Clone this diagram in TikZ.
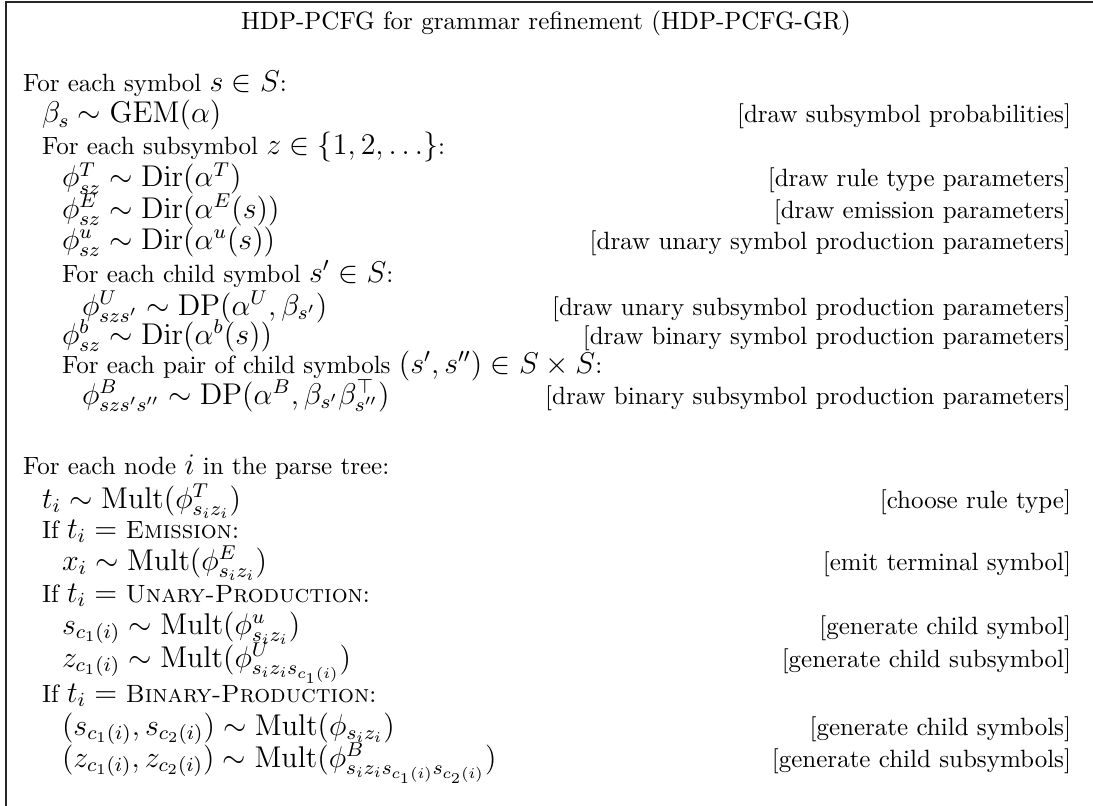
\documentclass[tikz,border=0pt]{standalone}
\DeclareMathSizes{10}{12}{8}{6}
\tikzset{
  ln/.style={anchor=base west,inner sep=0pt,outer sep=0pt,font=\fontsize{10}{12}\selectfont},
  cmt/.style={anchor=base east,inner sep=0pt,outer sep=0pt,font=\fontsize{10}{12}\selectfont},
  ttl/.style={anchor=base,inner sep=0pt,outer sep=0pt,font=\fontsize{10}{12}\selectfont},
  frame/.style={line width=0.7pt,draw=black!85}
}
\begin{document}
\begin{tikzpicture}[x=0.4pt,y=0.4pt]
\useasboundingbox (0,0) rectangle (1093,-806);
\coordinate (tl) at (6,-2);
\coordinate (tr) at (1093,-2);
\coordinate (bl) at (6,-806);
\draw[frame] (tr) -- (tl) -- (bl);
\node[ttl] (title) at (546,-30) {HDP-PCFG for grammar refinement (HDP-PCFG-GR)};
% levels
\def\La{23}\def\Lb{42}\def\Lc{62}\def\Ld{82}\def\R{1071}
\node[ln] (l0) at (\La,-92) {For each symbol $s \in S$:};
\node[ln] (l1) at (\Lb,-123) {$\beta_s \sim \mathrm{GEM}(\alpha)$};
\node[cmt] (c1) at (\R,-123) {[draw subsymbol probabilities]};
\node[ln] (l2) at (\Lb,-155) {For each subsymbol $z \in \{1, 2, \dots\}$:};
\node[ln] (l3) at (\Lc,-187) {$\phi^T_{sz} \sim \mathrm{Dir}(\alpha^T)$};
\node[cmt] (c3) at (\R,-187) {[draw rule type parameters]};
\node[ln] (l4) at (\Lc,-218) {$\phi^E_{sz} \sim \mathrm{Dir}(\alpha^E(s))$};
\node[cmt] (c4) at (\R,-218) {[draw emission parameters]};
\node[ln] (l5) at (\Lc,-249) {$\phi^u_{sz} \sim \mathrm{Dir}(\alpha^u(s))$};
\node[cmt] (c5) at (\R,-249) {[draw unary symbol production parameters]};
\node[ln] (l6) at (\Lc,-282) {For each child symbol $s' \in S$:};
\node[ln] (l7) at (\Ld,-315) {$\phi^U_{szs'} \sim \mathrm{DP}(\alpha^U, \beta_{s'})$};
\node[cmt] (c7) at (\R,-315) {[draw unary subsymbol production parameters]};
\node[ln] (l8) at (\Lc,-344) {$\phi^b_{sz} \sim \mathrm{Dir}(\alpha^b(s))$};
\node[cmt] (c8) at (\R,-344) {[draw binary symbol production parameters]};
\node[ln] (l9) at (\Lc,-373) {For each pair of child symbols $(s', s'') \in S \times S$:};
\node[ln] (l10) at (\Ld,-404) {$\phi^B_{szs's''} \sim \mathrm{DP}(\alpha^B, \beta_{s'}\beta^\top_{s''})$};
\node[cmt] (c10) at (\R,-404) {[draw binary subsymbol production parameters]};
%
\node[ln] (m0) at (\La,-474) {For each node $i$ in the parse tree:};
\node[ln] (m1) at (\Lb,-508) {$t_i \sim \mathrm{Mult}(\phi^T_{s_iz_i})$};
\node[cmt] (d1) at (\R,-508) {[choose rule type]};
\node[ln] (m2) at (\Lb,-538) {If $t_i =$ \textsc{Emission}:};
\node[ln] (m3) at (\Lc,-570) {$x_i \sim \mathrm{Mult}(\phi^E_{s_iz_i})$};
\node[cmt] (d3) at (\R,-570) {[emit terminal symbol]};
\node[ln] (m4) at (\Lb,-602) {If $t_i =$ \textsc{Unary-Production}:};
\node[ln] (m5) at (\Lc,-634) {$s_{c_1(i)} \sim \mathrm{Mult}(\phi^u_{s_iz_i})$};
\node[cmt] (d5) at (\R,-634) {[generate child symbol]};
\node[ln] (m6) at (\Lc,-667) {$z_{c_1(i)} \sim \mathrm{Mult}(\phi^U_{s_iz_is_{c_1(i)}})$};
\node[cmt] (d6) at (\R,-667) {[generate child subsymbol]};
\node[ln] (m7) at (\Lb,-702) {If $t_i =$ \textsc{Binary-Production}:};
\node[ln] (m8) at (\Lc,-735) {$(s_{c_1(i)}, s_{c_2(i)}) \sim \mathrm{Mult}(\phi_{s_iz_i})$};
\node[cmt] (d8) at (\R,-735) {[generate child symbols]};
\node[ln] (m9) at (\Lc,-767) {$(z_{c_1(i)}, z_{c_2(i)}) \sim \mathrm{Mult}(\phi^B_{s_iz_is_{c_1(i)}s_{c_2(i)}})$};
\node[cmt] (d9) at (\R,-767) {[generate child subsymbols]};
\end{tikzpicture}
\end{document}
